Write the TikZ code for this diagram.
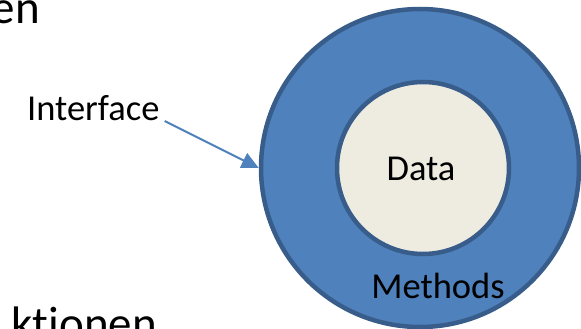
\documentclass[tikz,border=0pt]{standalone}
\usepackage{fontspec}
\setmainfont[Ligatures=NoCommon]{Carlito}
\usetikzlibrary{arrows.meta}
\definecolor{ofblue}{HTML}{4F81BD}
\definecolor{ofdark}{HTML}{385D8A}
\definecolor{oftan}{HTML}{EEECE1}
\tikzset{
  ring/.style={circle, draw=ofdark, line width=4.5pt, inner sep=0pt},
  lbl/.style={inner sep=0pt, font=\fontsize{36.5}{40}\selectfont},
  big/.style={inner sep=0pt, font=\fontsize{47}{52}\selectfont},
  conn/.style={draw=ofblue, line width=2pt, -{Triangle[length=17pt,width=16pt]}}
}
\begin{document}
\begin{tikzpicture}[x=1pt,y=-1pt]
\useasboundingbox (0,0) rectangle (581,329);
\begin{scope}
\clip (0,0) rectangle (581,329);
\node[ring, fill=ofblue, minimum size=318pt] (outer) at (420,168) {};
\node[ring, fill=oftan, minimum size=172pt] (inner) at (423,168) {};
\node[lbl, anchor=base] (data) at (421,180) {Data};
\node[lbl, anchor=base] (meth) at (438,298) {Methods};
\node[lbl, anchor=base west] (iface) at (27,120.5) {Interface};
\node[big, anchor=base east] (t1) at (40,24) {en};
\node[big, anchor=base east] (t2) at (157,339) {ktionen};
\coordinate (astart) at ([xshift=5pt, yshift=-0.5pt]iface.base east);
\draw[conn] (astart) -- (outer.west);
\end{scope}
\end{tikzpicture}
\end{document}
